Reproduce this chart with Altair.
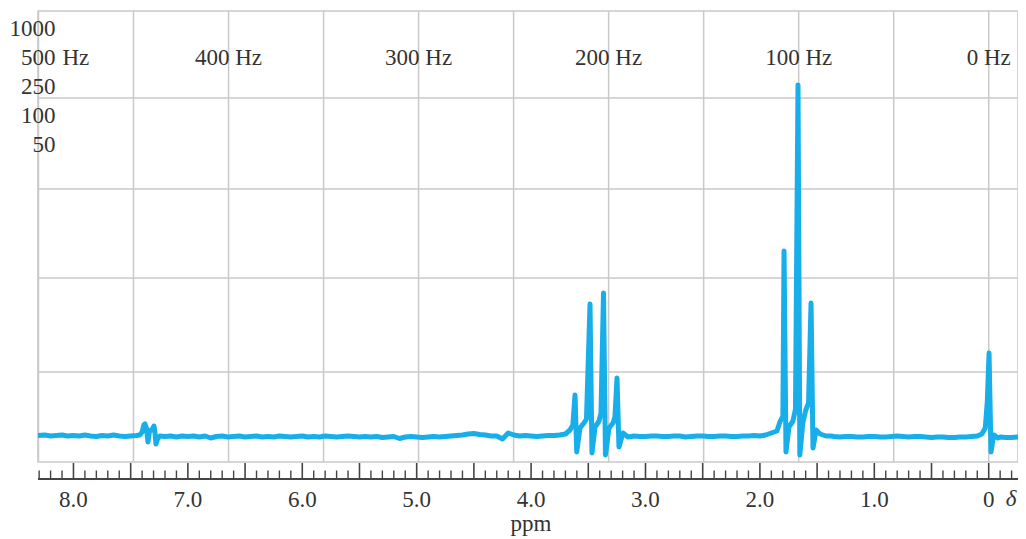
import altair as alt
import pandas as pd

# ---------------- data ----------------
# spectrum trace: chemical shift (ppm) and signal intensity (arbitrary units)
trace_ppm = [
    8.31, 8.25, 8.2, 8.15, 8.1, 8.05, 8.0, 7.95, 7.9, 7.85, 7.8, 7.75, 7.7, 7.65, 7.6, 7.55, 7.5, 7.45, 7.42,
    7.40, 7.385, 7.375, 7.362, 7.349, 7.335, 7.31, 7.296, 7.287, 7.279, 7.265, 7.245,
    7.2, 7.15, 7.1, 7.05, 7.0, 6.95, 6.9, 6.85, 6.8, 6.75, 6.7, 6.65, 6.6, 6.55, 6.5, 6.45, 6.4, 6.35,
    6.3, 6.25, 6.2, 6.15, 6.1, 6.05, 6.0, 5.95, 5.9, 5.85, 5.8, 5.75, 5.7, 5.65, 5.6, 5.55, 5.5, 5.45,
    5.4, 5.35, 5.3, 5.25, 5.2, 5.15, 5.1, 5.05, 5.0, 4.95, 4.9, 4.85, 4.8, 4.75, 4.7, 4.65, 4.6, 4.55,
    4.5, 4.45, 4.4, 4.35, 4.3, 4.25, 4.2, 4.15, 4.1, 4.05, 4.0, 3.95, 3.9, 3.85, 3.8, 3.75, 3.70,
    3.66, 3.635, 3.616, 3.601, 3.573, 3.538, 3.516, 3.485, 3.468, 3.441, 3.406, 3.389, 3.367, 3.350,
    3.319, 3.284, 3.267, 3.249, 3.232, 3.197, 3.153,
    3.1, 3.05, 3.0, 2.95, 2.9, 2.85, 2.8, 2.75, 2.7, 2.65, 2.6, 2.55, 2.5, 2.45, 2.4, 2.35, 2.3, 2.25,
    2.2, 2.15, 2.1, 2.05, 2.0, 1.95, 1.9, 1.851,
    1.825, 1.799, 1.789, 1.772, 1.746, 1.711, 1.689, 1.667, 1.651, 1.625, 1.599, 1.575, 1.553, 1.536,
    1.509, 1.474, 1.422,
    1.38, 1.35, 1.3, 1.25, 1.2, 1.15, 1.1, 1.05, 1.0, 0.95, 0.9, 0.85, 0.8, 0.75, 0.7, 0.65, 0.6, 0.55,
    0.5, 0.45, 0.4, 0.35, 0.3, 0.25, 0.2, 0.15, 0.1, 0.06, 0.03, 0.012, -0.003, -0.02, -0.035, -0.046,
    -0.08, -0.1, -0.15, -0.2, -0.25, -0.3,
]
trace_int = [
    25.5, 26, 25, 25.5, 26, 25, 25.5, 25, 26, 25, 24.5, 25.5, 25, 26, 25, 24.5, 25, 25.5, 26,
    29, 36, 37, 33, 19, 30, 32, 35, 28, 17, 22, 25,
    24.5, 25, 24, 25, 24.5, 25, 24, 25, 23, 24.5, 25, 24, 24.5, 25, 24, 24.5, 25, 24,
    24.5, 24, 25, 24.5, 24, 24.5, 25, 24, 24.5, 24, 25, 24.5, 24, 24.5, 25, 24.5, 24, 24.5,
    24, 24.5, 23.5, 24, 24.5, 22.5, 24, 24.5, 24, 23.5, 24, 24.5, 24, 24.5, 25, 25.5, 26, 27,
    27.5, 26.5, 26, 25, 25, 22, 28, 26, 25, 25.5, 25, 24.5, 25, 25.5, 25.5, 26, 27,
    31, 36, 66, 9, 33, 38, 42, 157, 8, 34, 40, 48, 168, 6,
    33, 38, 44, 83, 14, 28, 24,
    25, 24.5, 24.5, 25, 25, 24.5, 24.5, 25, 25, 24, 24.5, 25, 25, 24.5, 24.5, 25, 25, 24.5,
    24.5, 25, 25, 25.5, 25, 26, 28, 30,
    39, 45, 210, 9, 34, 40, 52, 376, 6, 38, 51, 58, 158, 13,
    31, 27, 25,
    25, 24.5, 24, 24.5, 24.5, 24, 24, 24.5, 24.5, 24, 24, 24.5, 25, 24.5, 24, 24.5, 24.5, 24,
    23.5, 24, 24, 23.5, 23.5, 24, 24, 24.5, 25, 27, 33, 60, 108, 9, 20, 26,
    23, 24, 23.5, 23.5, 24, 23.5,
]

grid_hz = [0, 50, 100, 150, 200, 250, 300, 350, 400, 450, 500]   # vertical grid (Hz)
hz_labels = [400, 300, 200, 100, 0]                              # Hz labels on the grid
sweep_labels = ["1000", "500", "250", "100", "50"]               # sweep-width column
ppm_labels = [8, 7, 6, 5, 4, 3, 2, 1, 0]                         # axis labels
major_ticks = [8.0, 7.5, 7.0, 6.5, 6.0, 5.5, 5.0, 4.5, 4.0, 3.5, 3.0, 2.5, 2.0, 1.5, 1.0, 0.5, 0.0]
minor_ticks = [round(i / 10, 1) for i in range(-2, 84) if i % 5 != 0]
grid_int = [89, 183, 272, 363]                                   # horizontal grid lines
MHZ = 60.2

# ---------------- styling ----------------
BLUE = "#17AEE9"
GRID = "#c9c9c9"
TXT = "#333333"
FONT = "Liberation Serif"
FS = 23
W, H = 980, 451

X_SCALE = alt.Scale(domain=[-0.256, 8.31], reverse=True, nice=False, zero=False)
Y_SCALE = alt.Scale(domain=[-1, 450], nice=False, zero=False)

vgrid = alt.Chart(pd.DataFrame({"hz": grid_hz})).transform_calculate(
    ppm=f"datum.hz / {MHZ}"
).mark_rule(color=GRID, strokeWidth=1.5).encode(
    x=alt.X("ppm:Q", scale=X_SCALE, axis=None),
    y=alt.value(0), y2=alt.value(H),
)

hgrid = alt.Chart(pd.DataFrame({"v": grid_int})).mark_rule(color=GRID, strokeWidth=1.5).encode(
    y=alt.Y("v:Q", scale=Y_SCALE, axis=None),
    x=alt.value(0), x2=alt.value(W),
)

trace = alt.Chart(pd.DataFrame({"ppm": trace_ppm, "v": trace_int})).mark_line(
    color=BLUE, strokeWidth=5, strokeJoin="round", strokeCap="round", clip=True
).encode(
    x=alt.X("ppm:Q", scale=X_SCALE, axis=None),
    y=alt.Y("v:Q", scale=Y_SCALE, axis=None),
)

major = alt.Chart(pd.DataFrame({"ppm": major_ticks})).mark_rule(color="#444", strokeWidth=1.6).encode(
    x=alt.X("ppm:Q", scale=X_SCALE, axis=None), y=alt.value(452), y2=alt.value(468),
)
minor = alt.Chart(pd.DataFrame({"ppm": minor_ticks})).mark_rule(color="#444", strokeWidth=1.4).encode(
    x=alt.X("ppm:Q", scale=X_SCALE, axis=None), y=alt.value(459.5), y2=alt.value(468),
)
baseline = alt.Chart(pd.DataFrame({"k": [0]})).mark_rule(color="#444", strokeWidth=2.2).encode(
    x=alt.value(0), x2=alt.value(W), y=alt.value(468),
)

ppmtext = alt.Chart(pd.DataFrame({"ppm": ppm_labels})).transform_calculate(
    label="datum.ppm == 0 ? '0' : format(datum.ppm, '.1f')"
).mark_text(font=FONT, fontSize=FS, color=TXT, align="center", baseline="alphabetic").encode(
    x=alt.X("ppm:Q", scale=X_SCALE, axis=None), y=alt.value(495.5), text="label:N",
)

title = alt.Chart(pd.DataFrame({"k": [0]})).mark_text(
    text="ppm", font=FONT, fontSize=FS, color=TXT, align="center", baseline="alphabetic",
).encode(x=alt.value(493), y=alt.value(520))

hztext = alt.Chart(pd.DataFrame({"hz": hz_labels})).transform_calculate(
    ppm=f"datum.hz / {MHZ}", label="datum.hz + ' Hz'"
).mark_text(font=FONT, fontSize=FS, color=TXT, align="center", baseline="alphabetic").encode(
    x=alt.X("ppm:Q", scale=X_SCALE, axis=None), y=alt.value(54), text="label:N",
)

sweep = alt.Chart(pd.DataFrame({"k": [0]})).mark_text(
    text=sweep_labels, font=FONT, fontSize=FS, color=TXT, align="right",
    baseline="alphabetic", lineHeight=29,
).encode(x=alt.value(17.5), y=alt.value(25))

hz_suffix = alt.Chart(pd.DataFrame({"k": [0]})).mark_text(
    text="Hz", font=FONT, fontSize=FS, color=TXT, align="left", baseline="alphabetic",
).encode(x=alt.value(24.5), y=alt.value(54))

delta = alt.Chart(pd.DataFrame({"k": [0]})).mark_text(
    text="δ", font=FONT, fontSize=FS, fontStyle="italic", color=TXT, align="center",
    baseline="alphabetic",
).encode(x=alt.value(973), y=alt.value(495))

chart = alt.layer(
    vgrid, hgrid, trace, major, minor, baseline, ppmtext, title, hztext, sweep, hz_suffix, delta
).properties(
    width=W, height=H,
    autosize=alt.AutoSizeParams(type="none"),
    padding={"left": 30, "top": 3, "right": 0, "bottom": 77},
).configure_view(stroke=GRID, strokeWidth=1.5)

chart.save("out.html", embed_options={"renderer": "svg", "actions": False})
